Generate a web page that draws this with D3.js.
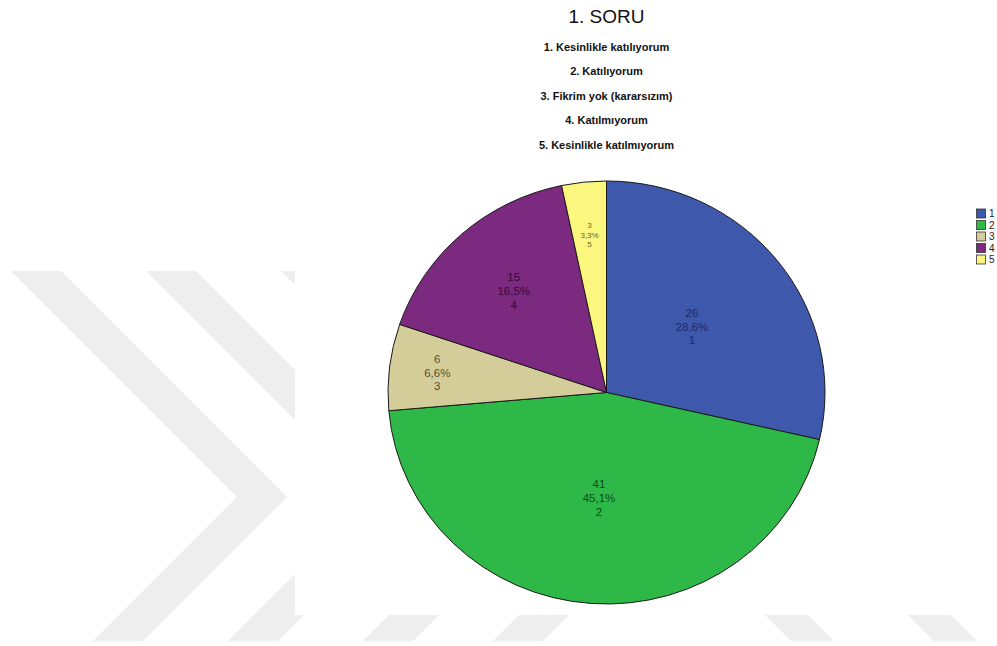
<!DOCTYPE html>
<html>
<head>
<meta charset="utf-8">
<script src="https://cdn.jsdelivr.net/npm/d3@7"></script>
<style>
html,body{margin:0;padding:0;background:#fff;}
svg{display:block;font-family:"Liberation Sans",Arial,sans-serif;}
</style>
</head>
<body>
<svg id="chart" width="997" height="646"></svg>
<script>
// ---- data ----
const title = "1. SORU";
const subtitles = [
  "1. Kesinlikle katılıyorum",
  "2. Katılıyorum",
  "3. Fikrim yok (kararsızım)",
  "4. Katılmıyorum",
  "5. Kesinlikle katılmıyorum"
];
const categories = ["1", "2", "3", "4", "5"];
const counts = [26, 41, 6, 15, 3];

// ---- styles / layout ----
const fills = ["#3E58AC", "#2EB848", "#D4CD9A", "#7B2A7F", "#FBF67E"];
const labelColors = ["#1C2A6A", "#0D4A1C", "#57502A", "#36093A", "#6A6520"];
const labelRadius = [0.5, 0.5, 0.78, 0.64, 0.75];
const labelSize = [11.5, 11.5, 11.5, 11.5, 8];

const W = 997, H = 646;
const svg = d3.select("#chart");

// ---- background watermark ----
const wm = svg.append("g");
wm.append("clipPath").attr("id", "wmclip")
  .append("rect").attr("x", 0).attr("y", 271).attr("width", W).attr("height", 370);
const wg = wm.append("g").attr("clip-path", "url(#wmclip)").attr("fill", "#EEEEEE");
const chevronOffsets = [0, 135, 270, 400];
chevronOffsets.forEach(ox => {
  const ix = 237 + ox, oxx = 287 + ox, vy = 497, L = 300;
  wg.append("path").attr("d", d3.line()([
    [ix - L, vy - L], [oxx - L, vy - L], [oxx, vy], [oxx - L, vy + L], [ix - L, vy + L], [ix, vy]
  ]));
});
// back-slanted stripes at the lower right
[[765, 808], [908, 951]].forEach(([a, b]) => {
  wg.append("path").attr("d", d3.line()([
    [a - 40, 575], [b - 40, 575], [b + 35, 650], [a + 35, 650]
  ]));
});
// white chart area
svg.append("rect").attr("x", 295).attr("y", 0).attr("width", W - 295).attr("height", 615).attr("fill", "#fff");

// ---- titles ----
const cx = 606.5, cy = 392.5, R = 211.5, sx = 218.5 / 211.5;
svg.append("text").attr("x", cx).attr("y", 23).attr("text-anchor", "middle")
  .attr("font-size", 19).attr("fill", "#111").text(title);
svg.selectAll("text.sub").data(subtitles).join("text").attr("class", "sub")
  .attr("x", cx).attr("y", (d, i) => 51 + i * 24.4).attr("text-anchor", "middle")
  .attr("font-size", 11).attr("font-weight", "bold").attr("fill", "#111").text(d => d);

// ---- pie ----
const total = d3.sum(counts);
const pie = d3.pie().sort(null).value(d => d).startAngle(0).endAngle(2 * Math.PI);
const arcs = pie(counts);
const arc = d3.arc().innerRadius(0).outerRadius(R);
const pg = svg.append("g").attr("transform", `translate(${cx},${cy}) scale(${sx},1)`);
pg.selectAll("path").data(arcs).join("path")
  .attr("d", arc)
  .attr("fill", (d, i) => fills[i])
  .attr("stroke", "#1a1a1a").attr("stroke-width", 1)
  .attr("vector-effect", "non-scaling-stroke");

// labels
const fmt = v => (v / total * 100).toFixed(1).replace(".", ",") + "%";
arcs.forEach((d, i) => {
  const a = (d.startAngle + d.endAngle) / 2;
  const r = R * labelRadius[i];
  const x = cx + sx * r * Math.sin(a);
  const y = cy - r * Math.cos(a);
  const fs = labelSize[i];
  const lh = fs * 1.2;
  const t = svg.append("text").attr("text-anchor", "middle")
    .attr("font-size", fs).attr("fill", labelColors[i]);
  [String(counts[i]), fmt(counts[i]), categories[i]].forEach((s, k) => {
    t.append("tspan").attr("x", x).attr("y", y + (k - 1) * lh + fs * 0.35).text(s);
  });
});

// ---- legend ----
const lg = svg.append("g");
categories.forEach((c, i) => {
  const y = 209 + i * 11.5;
  lg.append("rect").attr("x", 976.5).attr("y", y).attr("width", 9).attr("height", 9)
    .attr("fill", fills[i]).attr("stroke", "#333").attr("stroke-width", 0.8);
  lg.append("text").attr("x", 989).attr("y", y + 8).attr("font-size", 10).attr("fill", "#222").text(c);
});
</script>
</body>
</html>
